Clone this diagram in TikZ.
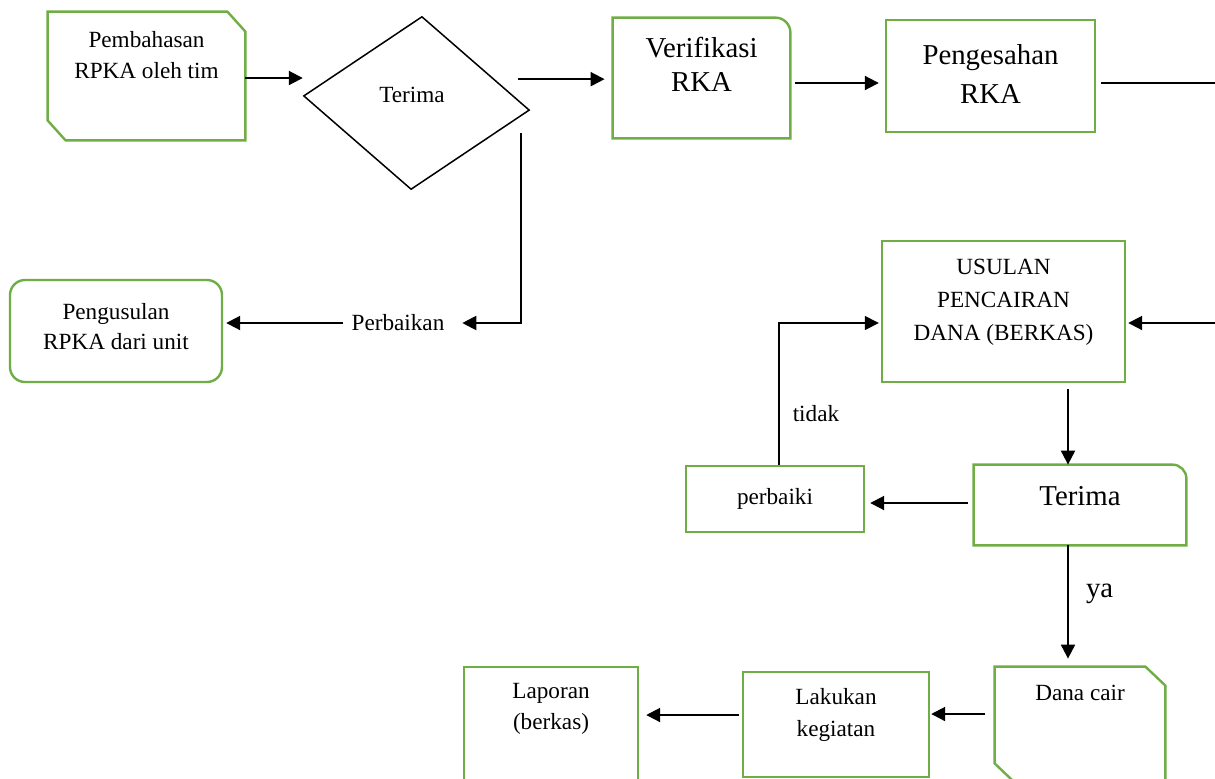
\documentclass[tikz,border=0pt]{standalone}
\usepackage{fontspec}
\setmainfont{Liberation Serif}
\usetikzlibrary{arrows.meta, positioning, calc, shapes.geometric}
\definecolor{boxgreen}{RGB}{112,173,71}
\tikzset{box/.style={draw=boxgreen, line width=1.2pt, inner sep=0pt},
  outline/.style={draw=boxgreen, line width=1.2pt},
  txt/.style={inner sep=0pt, align=center, font=\fontsize{11.6pt}{15.5pt}\selectfont},
  bigtxt/.style={inner sep=0pt, align=center, font=\fontsize{14.4pt}{17pt}\selectfont},
  arr/.style={line width=1pt, -{Triangle[length=7pt, width=7pt]}}}

\begin{document}
\begin{tikzpicture}[x=0.5pt, y=-0.5pt]
            \useasboundingbox (0,0) rectangle (1215,778);
            \node[minimum width=98.5pt, minimum height=64pt] (pembahasan_rpka) at (146.5,76) {};
            \draw[outline] (pembahasan_rpka.north west) -- ($(pembahasan_rpka.north east)+(-18,0)$) -- ($(pembahasan_rpka.north east)+(0,20)$) -- (pembahasan_rpka.south east) -- ($(pembahasan_rpka.south west)+(18,0)$) -- ($(pembahasan_rpka.south west)+(0,-20)$) -- cycle;
            \node[txt, below=9.5pt of pembahasan_rpka.north] (pembahasan_rpka_txt) {Pembahasan\\RPKA oleh tim};
            \node[diamond, draw, line width=0.75pt, inner sep=0pt, minimum width=113.2pt, minimum height=86.7pt, rotate=-3.6] (terima_rpka) at (416.5,103) {};
            \node[txt] (terima_rpka_txt) at (412,95) {Terima};
            \node[minimum width=88.5pt, minimum height=60pt] (verifikasi_rka) at (701.5,78) {};
            \draw[outline] (verifikasi_rka.south west) |- ($(verifikasi_rka.north east)+(-15,0)$) arc[start angle=90, end angle=0, radius=7.5pt] -- (verifikasi_rka.south east) -- cycle;
            \node[bigtxt, below=9.5pt of verifikasi_rka.north] (verifikasi_rka_txt) {Verifikasi\\RKA};
            \node[box, minimum width=104.5pt, minimum height=56pt] (pengesahan_rka) at (990.5,76) {};
            \node[bigtxt, below=12.5pt of pengesahan_rka.north] (pengesahan_rka_txt) {Pengesahan\\[2.5pt]RKA};
            \node[box, rounded corners=7.5pt, minimum width=106pt, minimum height=51pt] (pengusulan_rpka) at (116,331) {};
            \node[txt, font=\fontsize{11.6pt}{15pt}\selectfont, below=12pt of pengusulan_rpka.north] (pengusulan_rpka_txt) {Pengusulan\\RPKA dari unit};
            \node[txt, inner xsep=4.25pt] (perbaikan) at (398,323) {Perbaikan};
            \node[box, minimum width=121.5pt, minimum height=70.5pt] (usulan_pencairan) at (1003.5,311.5) {};
            \node[txt, font=\fontsize{11.6pt}{16.5pt}\selectfont, below=9.5pt of usulan_pencairan.north] (usulan_pencairan_txt) {USULAN\\PENCAIRAN\\DANA (BERKAS)};
            \node[minimum width=106pt, minimum height=40pt] (terima_berkas) at (1080,505) {};
            \draw[outline] (terima_berkas.south west) |- ($(terima_berkas.north east)+(-14,0)$) arc[start angle=90, end angle=0, radius=7pt] -- (terima_berkas.south east) -- cycle;
            \node[bigtxt, below=10.5pt of terima_berkas.north] (terima_berkas_txt) {Terima};
            \node[box, txt, minimum width=89pt, minimum height=33pt] (perbaiki_berkas) at (775,499) {perbaiki};
            \node[minimum width=85pt, minimum height=57.5pt] (dana_cair) at (1080,724.5) {};
            \draw[outline] (dana_cair.north west) -- ($(dana_cair.north east)+(-20,0)$) -- ($(dana_cair.north east)+(0,19)$) -- (dana_cair.south east) -- ($(dana_cair.south west)+(20,0)$) -- ($(dana_cair.south west)+(0,-19)$) -- cycle;
            \node[txt, below=9pt of dana_cair.north] (dana_cair_txt) {Dana cair};
            \node[box, minimum width=93pt, minimum height=52.5pt] (lakukan_kegiatan) at (836,724.5) {};
            \node[txt, font=\fontsize{11.6pt}{16pt}\selectfont, below=8.5pt of lakukan_kegiatan.north] (lakukan_kegiatan_txt) {Lakukan\\kegiatan};
            \node[box, minimum width=87pt, minimum height=61.5pt] (laporan_berkas) at (551,728.5) {};
            \node[txt, below=8.5pt of laporan_berkas.north] (laporan_berkas_txt) {Laporan\\(berkas)};
            \coordinate (tepi_atas) at (1215,83);
            \coordinate (tepi_bawah) at (1215,323);
            \draw[arr] ($(pembahasan_rpka.east)+(0,2)$) coordinate (p0) -- (p0 -| terima_rpka.west);
            \draw[arr, shorten >=4pt] ($(terima_rpka.east)+(-12,-31)$) coordinate (t0) -- (t0 -| verifikasi_rka.west);
            \draw[arr, shorten >=3pt] ($(verifikasi_rka.east)+(5,5)$) coordinate (v0) -- (v0 -| pengesahan_rka.west);
            \draw[line width=1pt] ($(pengesahan_rka.east)+(5,7)$) -- (tepi_atas);
            \draw[arr, shorten >=1pt] (tepi_bawah) -- (tepi_bawah -| usulan_pencairan.east);
            \draw[arr, shorten >=4.5pt] ($(terima_rpka.east)+(-9,23)$) |- (perbaikan.east);
            \draw[arr, shorten >=1.5pt] (perbaikan.west) -- (perbaikan.west -| pengusulan_rpka.east);
            \draw[arr] ($(usulan_pencairan.south)+(64.5,6)$) coordinate (u0) -- (u0 |- terima_berkas.north);
            \draw[arr, shorten >=2.5pt] ($(terima_berkas.west)+(-6,-2)$) coordinate (b0) -- (b0 -| perbaiki_berkas.east);
            \draw[arr, line width=0.75pt, shorten >=1pt] ($(perbaiki_berkas.north)+(4,0)$) |- (usulan_pencairan.west |- tepi_bawah) node[txt, pos=.18, right=6.5pt] (tidak) {tidak};
            \draw[arr, shorten >=4pt] ($(terima_berkas.south)+(-12,0)$) coordinate (b1) -- (b1 |- dana_cair.north) node[bigtxt, pos=.4, right=8.5pt] (ya) {ya};
            \draw[arr, shorten >=0.5pt] ($(dana_cair.west)+(-10,-10.5)$) coordinate (d0) -- (d0 -| lakukan_kegiatan.east);
            \draw[arr, shorten >=3.5pt] ($(lakukan_kegiatan.west)+(-3,-9.5)$) coordinate (k0) -- (k0 -| laporan_berkas.east);
      \end{tikzpicture}
\end{document}
